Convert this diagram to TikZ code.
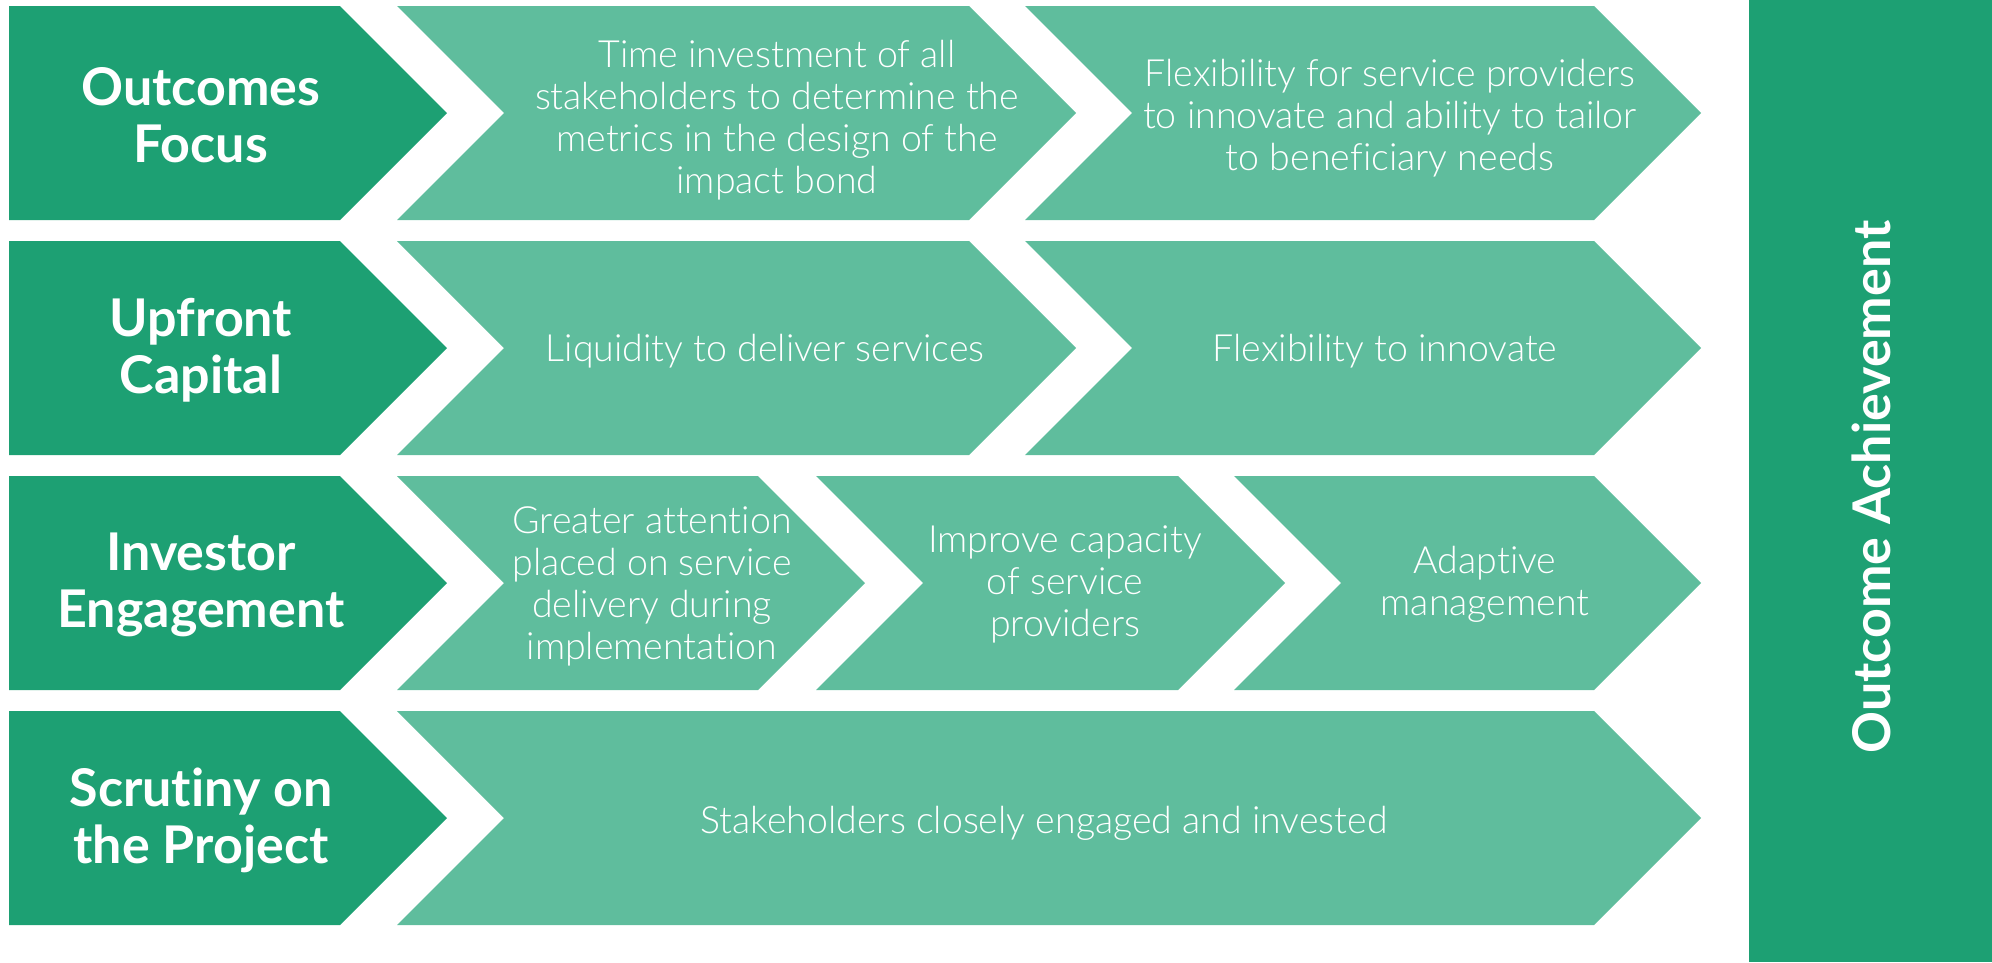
\documentclass[tikz,border=0pt]{standalone}
\usepackage{fontspec}
\setmainfont{Lato}[Ligatures={NoCommon,NoDiscretionary}]
\newfontfamily\lightfont{Lato}[UprightFont=* Light,Ligatures={NoCommon,NoDiscretionary}]
\definecolor{dkgreen}{HTML}{1DA073}
\definecolor{ltgreen}{HTML}{5FBD9D}
% #1 left x, #2 shoulder x, #3 top y, #4 notch depth, #5 colour
\newcommand\chevshape[5]{%
  \fill[#5] (#1,#3) -- (#2,#3) -- (#2+107,#3+107) -- (#2,#3+214) -- (#1,#3+214) -- (#1+#4,#3+107) -- cycle;}
\begin{document}
\begin{tikzpicture}[x=1pt,y=-1pt,
  lbl/.style={text=white,font=\fontsize{52}{57}\selectfont\bfseries,align=center,inner sep=0pt},
  body/.style={text=white,font=\lightfont\fontsize{37.5}{42}\selectfont,align=center,inner sep=0pt},
  bar/.style={text=white,font=\fontsize{52}{60}\selectfont\bfseries,rotate=90,inner sep=0pt}]
\useasboundingbox (0,0) rectangle (1992,962);
% row 1
\chevshape{9}{340}{6}{0}{dkgreen}
\chevshape{397}{969}{6}{107}{ltgreen}
\chevshape{1025}{1594}{6}{107}{ltgreen}
% row 2
\chevshape{9}{340}{241}{0}{dkgreen}
\chevshape{397}{969}{241}{107}{ltgreen}
\chevshape{1025}{1594}{241}{107}{ltgreen}
% row 3
\chevshape{9}{340}{476}{0}{dkgreen}
\chevshape{397}{758}{476}{107}{ltgreen}
\chevshape{816}{1178}{476}{107}{ltgreen}
\chevshape{1234}{1594}{476}{107}{ltgreen}
% row 4
\chevshape{9}{340}{711}{0}{dkgreen}
\chevshape{397}{1594}{711}{107}{ltgreen}
% bar
\fill[dkgreen] (1749,0) rectangle (1992,962);

\node[lbl] (l1) at (201,115) {Outcomes\\Focus};
\node[lbl] (l2) at (201,350) {Upfront\\Capital};
\node[lbl] (l3) at (201,585) {Investor\\Engagement};
\node[lbl] (l4) at (201,820) {Scrutiny on\\the Project};

\node[body] (t11) at (777,120) {Time investment of all\\stakeholders to determine the\\metrics in the design of the\\impact bond};
\node[body] (t12) at (1390,118) {Flexibility for service providers\\to innovate and ability to tailor\\to beneficiary needs};
\node[body] (t21) at (765,351) {Liquidity to deliver services};
\node[body] (t22) at (1385,351) {Flexibility to innovate};
\node[body] (t31) at (652,586) {Greater attention\\placed on service\\delivery during\\implementation};
\node[body] (t32) at (1065,584) {Improve capacity\\of service\\providers};
\node[body] (t33) at (1485,584) {Adaptive\\management};
\node[body] (t41) at (1044,823) {Stakeholders closely engaged and invested};

\node[bar] (oa) at (1871,487) {Outcome Achievement};
\end{tikzpicture}
\end{document}
